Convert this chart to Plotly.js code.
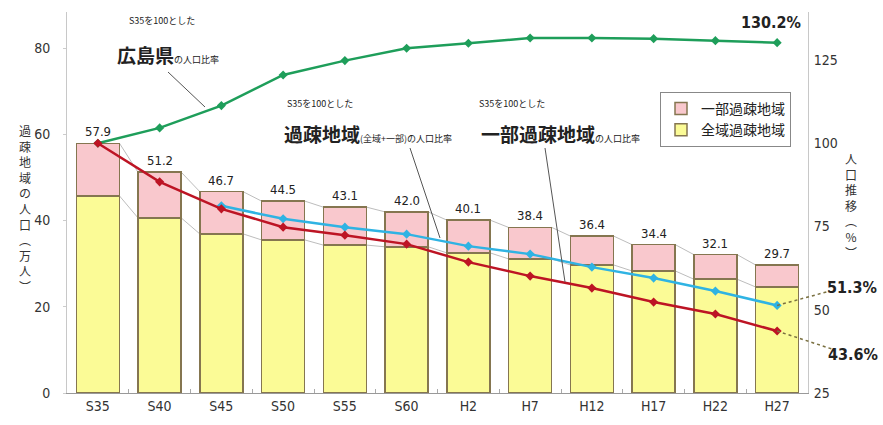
<!DOCTYPE html>
<html>
<head>
<meta charset="utf-8">
<script src="https://cdn.plot.ly/plotly-3.0.1.min.js"></script>
<style>html,body{margin:0;padding:0;background:#fff;}#chart{width:883px;height:425px;}</style>
</head>
<body>
<div id="chart"></div>
<script>
// ---- data ----
const categories = ['S35','S40','S45','S50','S55','S60','H2','H7','H12','H17','H22','H27'];
const totalPop = [57.9, 51.2, 46.7, 44.5, 43.1, 42.0, 40.1, 38.4, 36.4, 34.4, 32.1, 29.7];
const zenikiPop = [45.7, 40.6, 36.9, 35.5, 34.3, 33.9, 32.5, 31.1, 29.7, 28.3, 26.4, 24.6];
const hiroshimaRatio = [100, 104.6, 111.3, 120.5, 124.8, 128.5, 130.0, 131.6, 131.6, 131.4, 130.8, 130.2];
const kasoRatio = [100, 88.4, 80.3, 74.8, 72.4, 69.7, 64.3, 60.1, 56.5, 52.3, 48.7, 43.6];
const ichibuRatio = [null, null, 81.2, 77.3, 74.8, 72.7, 69.1, 66.7, 62.8, 59.5, 55.6, 51.3];
const leftTicks = [0, 20, 40, 60, 80];
const rightTicks = [25, 50, 75, 100, 125];

const ichibuPop = totalPop.map((t, i) => +(t - zenikiPop[i]).toFixed(1));

// ---- layout helpers ----
const L = 67, R = 808, T = 12, B = 393;
const yRange = [0, 88.35];
const y2Range = [25, 139.4];
const pxX = x => (x - L) / (R - L);
const pxY = y => (B - y) / (B - T);
const catX = i => (i + 0.5) / categories.length;
const valY2 = v => (v - y2Range[0]) / (y2Range[1] - y2Range[0]);

const JP = '"Noto Sans CJK JP", "Noto Sans", sans-serif';
const NUM = '"Liberation Sans Narrow", "DejaVu Sans Condensed", "Liberation Sans", sans-serif';
const outline = '#857650';

const traces = [
  {type:'bar', x:categories, y:zenikiPop, name:'全域過疎地域',
   marker:{color:'#fbfb96', line:{color:outline, width:1.5}}, hoverinfo:'skip'},
  {type:'bar', x:categories, y:ichibuPop, name:'一部過疎地域',
   marker:{color:'#f9c8cd', line:{color:outline, width:1.5}}, hoverinfo:'skip'},
  {type:'scatter', mode:'lines+markers', x:categories, y:hiroshimaRatio, yaxis:'y2', showlegend:false,
   line:{color:'#1e9e5a', width:2.5}, marker:{symbol:'diamond', size:7, color:'#1e9e5a'}},
  {type:'scatter', mode:'lines+markers', x:categories, y:ichibuRatio, yaxis:'y2', showlegend:false,
   line:{color:'#2fb3e3', width:2.5}, marker:{symbol:'diamond', size:7, color:'#2fb3e3'}},
  {type:'scatter', mode:'lines+markers', x:categories, y:kasoRatio, yaxis:'y2', showlegend:false,
   line:{color:'#bd1424', width:2.5}, marker:{symbol:'diamond', size:7, color:'#bd1424'}}
];

const shapes = [];
// Excel-like series connector lines between bars
for (let i = 0; i < categories.length - 1; i++) {
  [totalPop, zenikiPop].forEach(arr => {
    shapes.push({type:'line', xref:'x', yref:'y', x0:i + 0.35, x1:i + 0.65, y0:arr[i], y1:arr[i + 1],
      line:{color:'#bdbdbd', width:1}, layer:'below'});
  });
}
// pointer lines from the text labels
[[168,72,205,107],[410,148,440,238],[545,148,565,282]].forEach(p => {
  shapes.push({type:'line', xref:'paper', yref:'paper', x0:pxX(p[0]), y0:pxY(p[1]), x1:pxX(p[2]), y1:pxY(p[3]),
    line:{color:'#555', width:1}});
});
// dashed leaders to end labels
const last = categories.length - 1;
shapes.push({type:'line', xref:'paper', yref:'paper', x0:catX(last), y0:valY2(ichibuRatio[last]),
  x1:pxX(830), y1:pxY(291), line:{color:'#7a7040', width:1.5, dash:'dot'}});
shapes.push({type:'line', xref:'paper', yref:'paper', x0:catX(last), y0:valY2(kasoRatio[last]),
  x1:pxX(835), y1:pxY(350), line:{color:'#7a7040', width:1.5, dash:'dot'}});

const annotations = [];
// bar total labels
totalPop.forEach((v, i) => {
  annotations.push({x:categories[i], y:v, xref:'x', yref:'y', text:v.toFixed(1), showarrow:false,
    yanchor:'bottom', yshift:2, font:{family:NUM, size:13, color:'#222'}});
});
const small = s => '<span style="font-size:9px">' + s + '</span>';
const addText = (x, y, text, size, extra) => annotations.push(Object.assign({xref:'paper', yref:'paper',
  x:pxX(x), y:pxY(y), text:text, showarrow:false, xanchor:'center', yanchor:'middle',
  font:{family:JP, size:size, color:'#222'}}, extra || {}));
addText(162, 20, 'S35を100とした', 9);
addText(168, 55, '<b>広島県</b>' + small('の人口比率'), 19);
addText(320, 103, 'S35を100とした', 9);
addText(368, 133, '<b>過疎地域</b>' + small('(全域+一部)の人口比率'), 19);
addText(512, 103, 'S35を100とした', 9);
addText(560, 133, '<b>一部過疎地域</b>' + small('の人口比率'), 19);
addText(771, 22, '<b>' + hiroshimaRatio[last].toFixed(1) + '%</b>', 15, {font:{family:NUM, size:16, color:'#222'}});
addText(852, 287, '<b>' + ichibuRatio[last].toFixed(1) + '%</b>', 15, {font:{family:NUM, size:16, color:'#222'}});
addText(853, 354, '<b>' + kasoRatio[last].toFixed(1) + '%</b>', 15, {font:{family:NUM, size:16, color:'#222'}});
// vertical axis titles
addText(25, 208, '過<br>疎<br>地<br>域<br>の<br>人<br>口<br>︵<br>万<br>人<br>︶', 12,
  {font:{family:JP, size:12, color:'#333'}});
addText(851, 205, '人<br>口<br>推<br>移<br>︵<br>%<br>︶', 12,
  {font:{family:JP, size:12, color:'#333'}});

const layout = {
  width:883, height:425,
  margin:{l:L, r:883 - R, t:T, b:425 - B},
  paper_bgcolor:'#fff', plot_bgcolor:'#fff',
  barmode:'stack', bargap:0.3,
  showlegend:true,
  legend:{x:pxX(660), y:pxY(92), xanchor:'left', yanchor:'top', bgcolor:'#fff',
    bordercolor:'#888', borderwidth:1, font:{family:JP, size:14, color:'#222'}, itemwidth:30,
    tracegroupgap:2},
  xaxis:{type:'category', showgrid:false, zeroline:false, showline:true, linecolor:'#999', linewidth:1,
    ticks:'inside', tickson:'boundaries', ticklen:4, tickcolor:'#aaa',
    tickfont:{family:NUM, size:14, color:'#333'}, range:[-0.5, 11.5]},
  yaxis:{range:yRange, tickvals:leftTicks, showgrid:false, zeroline:false, showline:true,
    linecolor:'#c8c8c8', linewidth:1, ticks:'outside', ticklen:3, tickcolor:'#ccc',
    ticklabelstandoff:10, tickfont:{family:NUM, size:14, color:'#333'}},
  yaxis2:{range:y2Range, tickvals:rightTicks, overlaying:'y', side:'right', showgrid:false, zeroline:false,
    showline:true, linecolor:'#c8c8c8', linewidth:1, ticks:'', ticklabelstandoff:2,
    tickfont:{family:NUM, size:14, color:'#333'}},
  shapes:shapes,
  annotations:annotations
};

Plotly.newPlot('chart', traces, layout, {displayModeBar:false, staticPlot:true});
</script>
</body>
</html>
